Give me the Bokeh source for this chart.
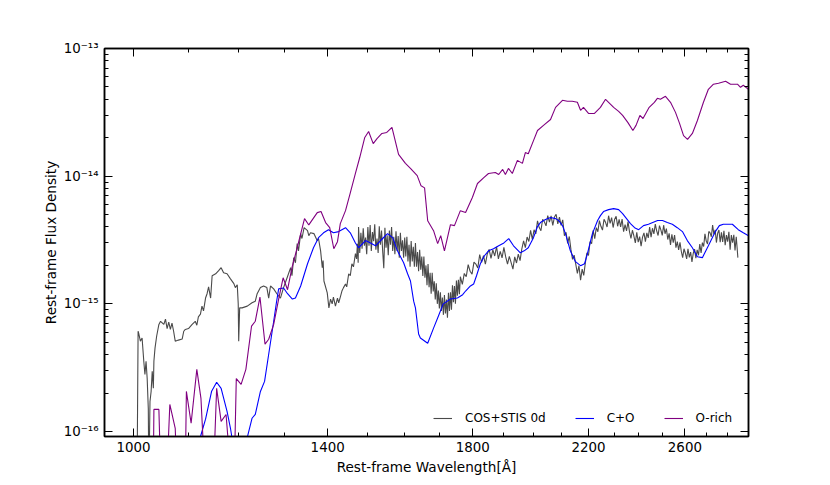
from bokeh.plotting import figure
from bokeh.models import (Range1d, FixedTicker, LogAxis, CustomJSTickFormatter,
                          PrintfTickFormatter)
from bokeh.embed import file_html
from bokeh.resources import INLINE

FONT = "DejaVu Sans"

# ---------------- data (wavelength [A], flux density) ----------------
cos_stis = [
    (1006, 3e-17), (1008, 6.1e-16), (1009, 5.9e-16), (1012, 5.1e-16), (1015, 5.4e-16),
    (1018, 3.55e-16), (1020, 2.8e-16), (1022, 3.55e-16), (1024, 2.6e-16), (1026, 1.5e-16),
    (1027, 4e-17), (1029, 1.72e-16), (1031, 2.06e-16), (1033, 2.96e-16), (1035, 2.18e-16),
    (1036, 3.55e-16), (1038, 4.5e-16), (1041, 5.6e-16), (1045, 6.9e-16), (1048, 7.3e-16),
    (1054, 6.9e-16), (1057, 7.6e-16), (1060, 6.4e-16), (1063, 7.2e-16), (1066, 6.3e-16),
    (1069, 7.05e-16), (1072, 6.1e-16), (1075, 5.1e-16), (1081, 5.2e-16), (1088, 5.3e-16),
    (1091, 6.1e-16), (1094, 6.3e-16), (1100, 6.4e-16), (1107, 6.9e-16), (1113, 7.3e-16),
    (1116, 6.8e-16), (1119, 7.9e-16), (1123, 8.3e-16), (1126, 9.6e-16), (1129, 8.8e-16),
    (1133, 1.11e-15), (1136, 1.2e-15), (1139, 1.36e-15), (1143, 1.11e-15), (1146, 1.66e-15),
    (1153, 1.72e-15), (1159, 1.82e-15), (1164, 1.92e-15), (1169, 1.75e-15), (1176, 1.72e-15),
    (1183, 1.57e-15), (1190, 1.44e-15), (1193, 1.34e-15), (1197, 1.41e-15), (1199, 1.0e-15),
    (1200, 5.1e-16), (1202, 9.3e-16), (1207, 9.3e-16), (1218, 9.6e-16), (1228, 1.02e-15),
    (1235, 1.05e-15), (1239, 1.2e-15), (1246, 1.34e-15), (1253, 1.38e-15), (1260, 1.34e-15),
    (1264, 1.11e-15), (1268, 1.38e-15), (1275, 1.31e-15), (1282, 1.2e-15), (1290, 1.11e-15),
    (1297, 1.34e-15), (1305, 1.6e-15), (1313, 1.92e-15), (1316, 1.66e-15), (1320, 2.3e-15),
    (1324, 2.1e-15), (1328, 2.96e-15), (1331, 2.6e-15), (1336, 3.55e-15), (1339, 3.25e-15),
    (1344, 3.95e-15), (1352, 3.75e-15), (1355, 3.42e-15), (1359, 3.6e-15), (1367, 3.55e-15),
    (1375, 3.12e-15), (1378, 3.25e-15), (1383, 2.6e-15), (1387, 1.92e-15), (1389, 2.18e-15),
    (1391, 1.51e-15), (1399, 1.22e-15), (1403, 9.3e-16), (1407, 1.09e-15), (1411, 1.0e-15),
    (1414, 1.13e-15), (1419, 9.6e-16), (1424, 1.11e-15), (1427, 1.02e-15), (1431, 1.13e-15),
    (1435, 1.26e-15), (1439, 1.34e-15), (1444, 1.43e-15), (1447, 1.36e-15), (1452, 1.72e-15),
    (1456, 1.66e-15), (1460, 2.06e-15), (1464, 1.95e-15), (1469, 2.47e-15), (1472, 2.25e-15),
    (1474, 2.96e-15), (1476, 2.1e-15),
    (1477, 4.0e-15), (1480, 2.5e-15), (1483, 3.6e-15), (1486, 2.7e-15), (1489, 3.9e-15),
    (1492, 2.85e-15), (1495, 3.3e-15), (1498, 2.45e-15), (1501, 4.0e-15), (1504, 2.85e-15),
    (1507, 4.15e-15), (1510, 2.6e-15), (1513, 3.65e-15), (1516, 3.1e-15), (1519, 4.2e-15),
    (1522, 2.65e-15), (1525, 3.25e-15), (1528, 2.5e-15), (1531, 4.05e-15), (1534, 2.9e-15),
    (1537, 3.75e-15), (1540, 2.6e-15), (1543, 1.9e-15), (1546, 3.95e-15), (1549, 2.75e-15),
    (1552, 3.45e-15), (1555, 2.4e-15), (1558, 3.75e-15), (1561, 2.9e-15), (1564, 4.0e-15),
    (1567, 2.6e-15), (1570, 3.35e-15), (1573, 2.45e-15), (1576, 3.7e-15), (1579, 2.6e-15),
    (1582, 3.4e-15), (1585, 2.3e-15), (1588, 3.6e-15), (1591, 2.6e-15), (1594, 3.15e-15),
    (1597, 2.3e-15), (1600, 3.3e-15), (1603, 2.35e-15), (1606, 3.35e-15), (1609, 2.15e-15),
    (1612, 2.9e-15), (1615, 1.95e-15), (1618, 3.1e-15), (1621, 2.15e-15), (1624, 2.8e-15),
    (1627, 1.95e-15), (1630, 3.0e-15), (1633, 1.95e-15), (1636, 2.55e-15), (1639, 1.8e-15),
    (1642, 2.65e-15), (1645, 1.85e-15), (1648, 2.35e-15), (1651, 1.65e-15), (1654, 2.35e-15),
    (1657, 1.6e-15), (1660, 2.0e-15), (1663, 1.4e-15), (1666, 2.05e-15), (1669, 1.35e-15),
    (1672, 1.75e-15), (1675, 1.2e-15), (1678, 1.75e-15), (1681, 1.25e-15), (1684, 1.5e-15),
    (1687, 1.08e-15), (1690, 1.45e-15), (1693, 1.0e-15), (1696, 1.27e-15), (1699, 9.2e-16),
    (1702, 1.23e-15), (1705, 8.8e-16), (1708, 1.12e-15), (1711, 8.2e-16), (1714, 1.17e-15),
    (1717, 8.4e-16), (1720, 1.08e-15), (1723, 7.8e-16), (1726, 1.22e-15), (1729, 8.8e-16),
    (1732, 1.23e-15), (1735, 9.0e-16), (1738, 1.4e-15), (1741, 1.03e-15), (1744, 1.38e-15),
    (1747, 1.0e-15), (1750, 1.52e-15), (1753, 1.16e-15), (1756, 1.54e-15), (1759, 1.19e-15),
    (1762, 1.63e-15), (1768, 1.42e-15), (1774, 1.73e-15), (1780, 1.63e-15), (1786, 2.03e-15),
    (1792, 1.8e-15), (1798, 1.71e-15), (1804, 2.12e-15), (1810, 2.05e-15), (1816, 1.91e-15),
    (1822, 2.43e-15), (1828, 2.11e-15), (1834, 2.39e-15), (1840, 2.05e-15), (1846, 2.45e-15),
    (1852, 2.67e-15), (1858, 2.27e-15), (1864, 2.65e-15), (1870, 2.37e-15), (1876, 2.8e-15),
    (1882, 2.25e-15), (1888, 2.58e-15), (1894, 2.29e-15), (1900, 2.77e-15), (1906, 2.33e-15),
    (1912, 2.05e-15), (1918, 2.35e-15), (1924, 2.1e-15), (1930, 1.87e-15), (1936, 2.33e-15),
    (1942, 2.09e-15), (1948, 2.45e-15), (1954, 2.18e-15), (1960, 2.7e-15), (1966, 3.11e-15),
    (1972, 2.76e-15), (1978, 3.34e-15), (1984, 3.08e-15), (1990, 3.77e-15), (1996, 3.2e-15),
    (2002, 3.8e-15), (2008, 3.53e-15), (2014, 4.46e-15), (2020, 3.96e-15), (2026, 3.74e-15),
    (2032, 4.6e-15), (2038, 4.4e-15), (2044, 4.08e-15), (2050, 4.91e-15), (2056, 4.37e-15),
    (2062, 4.88e-15), (2068, 4.12e-15), (2074, 4.79e-15), (2080, 5.03e-15), (2086, 4.23e-15),
    (2092, 4.77e-15), (2098, 4.12e-15), (2104, 4.55e-15), (2110, 3.42e-15), (2116, 3.64e-15),
    (2122, 2.98e-15), (2128, 3.37e-15), (2134, 2.67e-15), (2140, 2.23e-15), (2146, 2.41e-15),
    (2152, 2.05e-15), (2158, 1.73e-15), (2164, 1.99e-15), (2170, 1.53e-15), (2176, 1.87e-15),
    (2182, 1.67e-15), (2188, 2.09e-15), (2194, 2.51e-15), (2200, 2.39e-15), (2206, 3.07e-15),
    (2212, 2.96e-15), (2218, 3.77e-15), (2224, 3.24e-15), (2230, 3.95e-15), (2236, 3.67e-15),
    (2242, 4.49e-15), (2248, 4.05e-15), (2254, 3.78e-15), (2260, 4.6e-15), (2266, 4.35e-15),
    (2272, 4.0e-15), (2278, 4.9e-15), (2284, 4.26e-15), (2290, 4.73e-15), (2296, 3.96e-15),
    (2302, 4.59e-15), (2308, 4.85e-15), (2314, 4.05e-15), (2320, 4.59e-15), (2326, 4.0e-15),
    (2332, 4.61e-15), (2338, 3.67e-15), (2344, 4.18e-15), (2350, 3.72e-15), (2356, 4.41e-15),
    (2362, 3.67e-15), (2368, 3.25e-15), (2374, 3.77e-15), (2380, 3.4e-15), (2386, 3.0e-15),
    (2392, 3.63e-15), (2398, 3.04e-15), (2404, 3.36e-15), (2410, 2.83e-15), (2416, 3.33e-15),
    (2422, 3.6e-15), (2428, 3.07e-15), (2434, 3.6e-15), (2440, 3.29e-15), (2446, 4.0e-15),
    (2452, 3.33e-15), (2458, 3.91e-15), (2464, 3.53e-15), (2470, 4.21e-15), (2476, 3.73e-15),
    (2482, 3.43e-15), (2488, 4.1e-15), (2494, 3.8e-15), (2500, 3.44e-15), (2506, 4.13e-15),
    (2512, 3.54e-15), (2518, 3.89e-15), (2524, 3.19e-15), (2530, 3.57e-15), (2536, 2.89e-15),
    (2542, 3.5e-15), (2548, 3.01e-15), (2554, 3.46e-15), (2560, 2.75e-15), (2566, 3.07e-15),
    (2572, 2.65e-15), (2578, 3.03e-15), (2584, 2.57e-15), (2590, 2.3e-15), (2596, 2.7e-15),
    (2602, 2.5e-15), (2608, 2.25e-15), (2614, 2.7e-15), (2620, 2.31e-15), (2626, 2.54e-15),
    (2632, 2.13e-15), (2638, 2.49e-15), (2644, 2.68e-15), (2650, 2.28e-15), (2656, 2.65e-15),
    (2662, 2.4e-15), (2668, 2.94e-15), (2674, 2.5e-15), (2680, 3.02e-15), (2686, 2.81e-15),
    (2692, 3.53e-15), (2698, 3.1e-15), (2704, 2.94e-15), (2710, 3.69e-15), (2716, 3.6e-15),
    (2722, 3.35e-15), (2728, 4.14e-15), (2734, 3.5e-15), (2740, 3.8e-15), (2746, 3.02e-15),
    (2752, 3.57e-15), (2758, 3.79e-15), (2764, 3.04e-15), (2770, 3.63e-15), (2776, 3.06e-15),
    (2782, 3.74e-15), (2788, 2.88e-15), (2794, 3.45e-15), (2800, 3.07e-15), (2806, 3.66e-15),
    (2812, 2.66e-15), (2818, 3.46e-15), (2824, 3.01e-15), (2830, 3.47e-15), (2836, 2.62e-15),
    (2842, 3.35e-15), (2846, 2.79e-15), (2850, 2.3e-15),
]

c_plus_o = [
    (1121, 5e-17), (1123, 9.1e-17), (1133, 1.25e-16), (1145, 2.07e-16), (1155, 2.43e-16),
    (1164, 2.18e-16), (1176, 1.44e-16), (1183, 1.06e-16), (1187, 8.5e-17), (1202, 5e-17),
    (1218, 9e-17), (1228, 1.27e-16), (1235, 1.36e-16), (1246, 2.06e-16), (1255, 2.47e-16),
    (1264, 4.03e-16), (1275, 7.31e-16), (1281, 1.02e-15), (1286, 1.31e-15), (1297, 1.33e-15),
    (1306, 1.2e-15), (1317, 1.09e-15), (1324, 1.11e-15), (1336, 1.38e-15), (1352, 2.06e-15),
    (1366, 2.75e-15), (1378, 3.3e-15), (1390, 3.6e-15), (1402, 3.81e-15), (1414, 3.6e-15),
    (1427, 3.68e-15), (1444, 3.95e-15), (1456, 3.6e-15), (1469, 3.0e-15), (1477, 2.75e-15),
    (1495, 3.13e-15), (1508, 3.0e-15), (1521, 2.85e-15), (1540, 3.25e-15), (1553, 3.55e-15),
    (1567, 3.3e-15), (1580, 2.6e-15), (1597, 2.1e-15), (1608, 1.72e-15), (1616, 1.51e-15),
    (1625, 1.05e-15), (1630, 9.3e-16), (1639, 5.8e-16), (1644, 5.4e-16), (1665, 4.91e-16),
    (1682, 6.45e-16), (1696, 8.0e-16), (1710, 9.95e-16), (1732, 1.09e-15), (1753, 1.11e-15),
    (1769, 1.18e-15), (1778, 1.26e-15), (1793, 1.38e-15), (1803, 1.43e-15), (1812, 1.66e-15),
    (1824, 2.06e-15), (1837, 2.38e-15), (1850, 2.6e-15), (1866, 2.7e-15), (1883, 2.85e-15),
    (1900, 3.0e-15), (1916, 3.24e-15), (1932, 2.85e-15), (1955, 2.51e-15), (1968, 2.6e-15),
    (1982, 2.75e-15), (2000, 3.3e-15), (2014, 4.03e-15), (2024, 4.33e-15), (2042, 4.57e-15),
    (2060, 4.74e-15), (2078, 4.65e-15), (2089, 4.5e-15), (2103, 4.1e-15), (2114, 3.55e-15),
    (2132, 2.6e-15), (2151, 2.14e-15), (2170, 1.99e-15), (2185, 2.06e-15), (2196, 2.47e-15),
    (2215, 3.55e-15), (2235, 4.5e-15), (2246, 4.91e-15), (2258, 5.28e-15), (2278, 5.47e-15),
    (2298, 5.57e-15), (2318, 5.47e-15), (2334, 5.09e-15), (2350, 4.65e-15), (2366, 4.25e-15),
    (2383, 3.95e-15), (2400, 3.81e-15), (2420, 4.1e-15), (2441, 4.2e-15), (2480, 4.5e-15),
    (2501, 4.5e-15), (2522, 4.33e-15), (2544, 4.2e-15), (2566, 3.95e-15), (2589, 3.68e-15),
    (2611, 3.13e-15), (2634, 2.75e-15), (2657, 2.34e-15), (2680, 2.3e-15), (2708, 2.85e-15),
    (2741, 3.68e-15), (2760, 4.1e-15), (2779, 4.2e-15), (2823, 4.2e-15), (2852, 3.81e-15),
    (2877, 3.6e-15), (2903, 3.42e-15),
]

o_rich = [
    (1035, 5e-17), (1036, 1.49e-16), (1045, 1.49e-16), (1048, 5e-17), (1060, 5e-17),
    (1065, 1.63e-16), (1075, 1.06e-16), (1078, 5e-17), (1094, 5e-17), (1096, 2.06e-16),
    (1105, 1.16e-16), (1116, 3.07e-16), (1124, 1.82e-16), (1131, 5e-17), (1149, 5e-17),
    (1155, 2.18e-16), (1164, 1.2e-16), (1174, 1.36e-16), (1183, 5e-17), (1191, 5e-17),
    (1195, 2.6e-16), (1205, 2.34e-16), (1215, 3.07e-16), (1227, 6.7e-16), (1235, 7.31e-16),
    (1245, 1.13e-15), (1256, 4.83e-16), (1264, 5.28e-16), (1275, 6.9e-16), (1286, 1.09e-15),
    (1296, 1.6e-15), (1306, 1.29e-15), (1316, 1.92e-15), (1328, 2.75e-15), (1345, 4.65e-15),
    (1355, 4.15e-15), (1375, 5.18e-15), (1384, 5.28e-15), (1395, 4.33e-15), (1405, 3.95e-15),
    (1415, 2.7e-15), (1424, 3.07e-15), (1431, 4.25e-15), (1444, 5.37e-15), (1456, 7.4e-15),
    (1469, 1.05e-14), (1480, 1.4e-14), (1493, 2.01e-14), (1503, 2.24e-14), (1515, 1.8e-14),
    (1525, 1.97e-14), (1538, 2.16e-14), (1551, 2.2e-14), (1565, 2.41e-14), (1583, 1.48e-14),
    (1602, 1.26e-14), (1616, 1.15e-14), (1635, 1.01e-14), (1646, 8.4e-15), (1656, 8.1e-15),
    (1665, 4.48e-15), (1682, 3.74e-15), (1694, 2.96e-15), (1703, 3.42e-15), (1714, 2.6e-15),
    (1732, 4.17e-15), (1744, 4.1e-15), (1762, 5.37e-15), (1778, 5.2e-15), (1799, 6.8e-15),
    (1815, 8.76e-15), (1835, 9.75e-15), (1850, 1.05e-14), (1872, 1.07e-14), (1883, 1.03e-14),
    (1896, 1.13e-14), (1905, 1.03e-14), (1915, 1.15e-14), (1928, 1.05e-14), (1945, 1.33e-14),
    (1962, 1.26e-14), (1972, 1.53e-14), (1982, 1.5e-14), (2000, 1.9e-14), (2014, 2.28e-14),
    (2035, 2.5e-14), (2060, 2.78e-14), (2078, 3.46e-14), (2103, 3.93e-14), (2121, 3.86e-14),
    (2139, 3.86e-14), (2158, 3.79e-14), (2170, 3.28e-14), (2181, 3.46e-14), (2200, 3.1e-14),
    (2223, 3.1e-14), (2246, 3.46e-14), (2266, 4.0e-14), (2282, 3.72e-14), (2298, 3.46e-14),
    (2318, 3.22e-14), (2334, 2.99e-14), (2355, 2.64e-14), (2376, 2.28e-14), (2389, 2.5e-14),
    (2405, 2.99e-14), (2418, 2.83e-14), (2444, 3.46e-14), (2466, 3.79e-14), (2479, 4.07e-14),
    (2492, 4.0e-14), (2514, 4.22e-14), (2536, 3.79e-14), (2558, 3.16e-14), (2576, 2.59e-14),
    (2594, 2.08e-14), (2612, 1.94e-14), (2634, 2.16e-14), (2657, 2.73e-14), (2685, 3.79e-14),
    (2708, 4.79e-14), (2732, 5.25e-14), (2756, 5.35e-14), (2790, 5.54e-14), (2814, 5.25e-14),
    (2848, 5.25e-14), (2863, 4.97e-14), (2877, 5.15e-14), (2903, 4.79e-14),
]

series_labels = ["COS+STIS 0d", "C+O", "O-rich"]
series_colors = ["#4a4a4a", "#0000ff", "#800080"]

x_major_ticks = [1000, 1400, 1800, 2200, 2600]
x_minor_ticks = [1100, 1200, 1300, 1500, 1600, 1700, 1900, 2000, 2100,
                 2300, 2400, 2500, 2700, 2800]
y_major_ticks = [1e-16, 1e-15, 1e-14, 1e-13]
y_minor_ticks = [2e-16, 3e-16, 4e-16, 5e-16, 6e-16, 7e-16, 8e-16, 9e-16,
                 2e-15, 3e-15, 4e-15, 5e-15, 6e-15, 7e-15, 8e-15, 9e-15,
                 2e-14, 3e-14, 4e-14, 5e-14, 6e-14, 7e-14, 8e-14, 9e-14]

# ---------------- figure ----------------
p = figure(frame_width=644, frame_height=388,
           x_axis_type="log", y_axis_type="log",
           x_range=Range1d(951, 2903), y_range=Range1d(9.14e-17, 1e-13),
           output_backend="svg", toolbar_location=None,
           min_border_left=104, min_border_right=56,
           min_border_top=48, min_border_bottom=41,
           background_fill_color="white", border_fill_color="white")

p.xgrid.visible = False
p.ygrid.visible = False
p.outline_line_color = "black"
p.outline_line_width = 1.5

for data, label, color in zip([cos_stis, c_plus_o, o_rich], series_labels, series_colors):
    xs = [d[0] for d in data]
    ys = [d[1] for d in data]
    p.line(xs, ys, line_color=color, line_width=1.1, legend_label=label)

sup_code = """
const e = Math.round(Math.log10(tick));
const sup = {'-':'\u207b','0':'\u2070','1':'\u00b9','2':'\u00b2','3':'\u00b3','4':'\u2074',
             '5':'\u2075','6':'\u2076','7':'\u2077','8':'\u2078','9':'\u2079'};
return '10' + String(e).split('').map(c => sup[c]).join('');
"""

xt = FixedTicker(ticks=x_major_ticks, minor_ticks=x_minor_ticks)
yt = FixedTicker(ticks=y_major_ticks, minor_ticks=y_minor_ticks)

xa = p.xaxis[0]
xa.ticker = xt
xa.formatter = PrintfTickFormatter(format="%d")
xa.axis_label = "Rest-frame Wavelength[Å]"

ya = p.yaxis[0]
ya.ticker = yt
ya.formatter = CustomJSTickFormatter(code=sup_code)
ya.axis_label = "Rest-frame Flux Density"

top = LogAxis(ticker=FixedTicker(ticks=x_major_ticks, minor_ticks=x_minor_ticks),
              formatter=CustomJSTickFormatter(code="return '';"))
right = LogAxis(ticker=FixedTicker(ticks=y_major_ticks, minor_ticks=y_minor_ticks),
                formatter=CustomJSTickFormatter(code="return '';"))
p.add_layout(top, "above")
p.add_layout(right, "right")

for ax in [xa, ya, top, right]:
    ax.axis_line_color = "black"
    ax.axis_line_width = 1.5
    ax.major_tick_in = 8
    ax.major_tick_out = 0
    ax.minor_tick_in = 4
    ax.minor_tick_out = 0
    ax.major_tick_line_color = "black"
    ax.minor_tick_line_color = "black"
    ax.major_tick_line_width = 1
    ax.minor_tick_line_width = 1
    ax.major_label_text_font = FONT
    ax.major_label_text_font_size = "13.4px"
    ax.major_label_text_color = "black"
    ax.axis_label_text_font = FONT
    ax.axis_label_text_font_size = "13.6px"
    ax.axis_label_text_font_style = "normal"
    ax.axis_label_text_color = "black"

top.major_label_text_font_size = "0px"
right.major_label_text_font_size = "0px"
xa.major_label_standoff = 5
xa.axis_label_standoff = 4
ya.major_label_standoff = 6
ya.axis_label_standoff = 2

lg = p.legend[0]
lg.orientation = "horizontal"
lg.location = (324, 3)
lg.margin = 0
lg.padding = 5
lg.spacing = 29
lg.glyph_width = 19
lg.label_standoff = 13
lg.label_text_font = FONT
lg.label_text_font_size = "12px"
lg.label_text_color = "black"
lg.border_line_alpha = 0
lg.background_fill_alpha = 0

open("out.html", "w").write(file_html(p, INLINE))
